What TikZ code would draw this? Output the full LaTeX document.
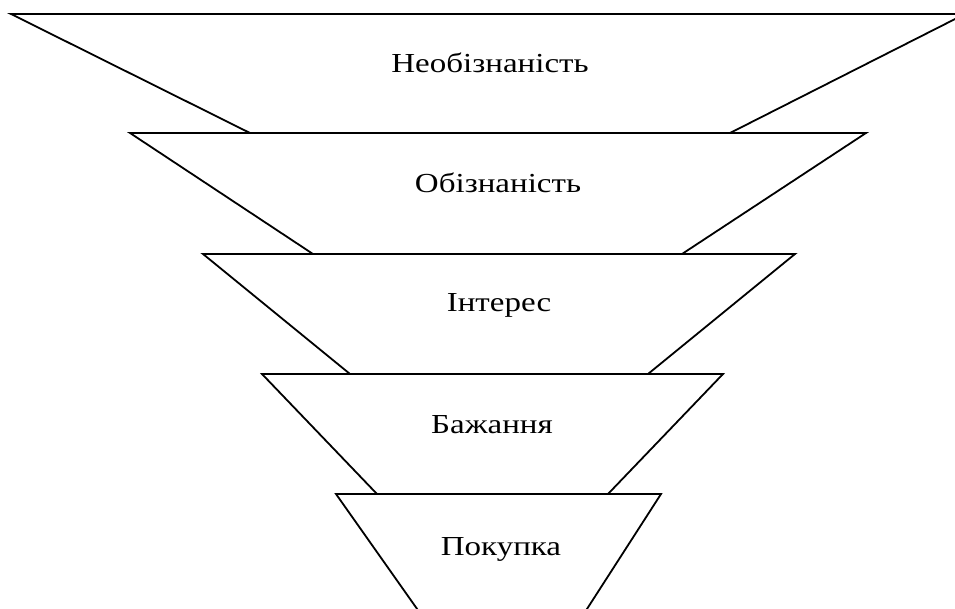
\documentclass[tikz,border=0pt]{standalone}
\usepackage{fontspec}
\setmainfont{Liberation Serif}[FakeStretch=1.2]
\usepackage{tikz}

\tikzset{
  stage/.style={draw=black, line width=1.8pt, line join=miter, fill=white},
  stagelabel/.style={anchor=base, font=\fontsize{27.5}{32}\selectfont, inner sep=0pt}
}

\begin{document}
\begin{tikzpicture}[x=1pt, y=-1pt]
  \useasboundingbox (0,0) rectangle (955,609);
  \clip (0,0) rectangle (955,609);

  % funnel levels, top to bottom
  \draw[stage] (11,14) -- (965,14) -- (730,133) -- (250,133) -- cycle;
  \draw[stage] (130,133) -- (866,133) -- (682,254) -- (313,254) -- cycle;
  \draw[stage] (203,254) -- (795,254) -- (648,374) -- (350,374) -- cycle;
  \draw[stage] (262,374) -- (723,374) -- (608,494) -- (377,494) -- cycle;
  \draw[stage] (336,494) -- (661,494) -- (567,640) -- (439,640) -- cycle;

  \node[stagelabel] (aware0) at (490,73)  {Необізнаність};
  \node[stagelabel] (aware1) at (498,193) {Обізнаність};
  \node[stagelabel] (interest) at (499,312) {Інтерес};
  \node[stagelabel] (desire) at (492,433) {Бажання};
  \node[stagelabel] (buy) at (501,555) {Покупка};
\end{tikzpicture}
\end{document}
